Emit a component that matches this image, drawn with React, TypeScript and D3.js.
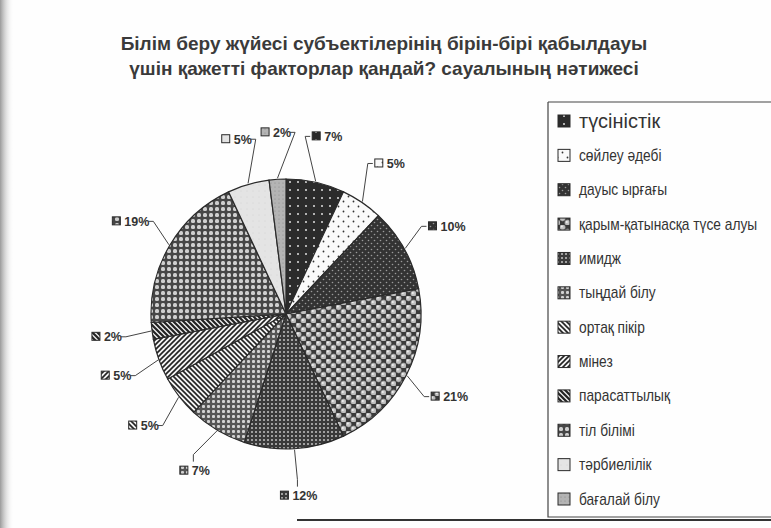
import React from 'react';
import * as d3 from 'd3';

// сауал нәтижесі (%)
const categories = [
  'түсіністік',
  'сөйлеу әдебі',
  'дауыс ырғағы',
  'қарым-қатынасқа түсе алуы',
  'имидж',
  'тыңдай білу',
  'ортақ пікір',
  'мінез',
  'парасаттылық',
  'тіл білімі',
  'тәрбиелілік',
  'бағалай білу',
];
const values = [7, 5, 10, 21, 12, 7, 5, 5, 2, 19, 5, 2];
const titleLines = [
  'Білім беру жүйесі субъектілерінің бірін-бірі қабылдауы',
  'үшін қажетті факторлар қандай? сауалының нәтижесі',
];

const W = 771;
const H = 528;
const cx = 286;
const cy = 314;
const radius = 135;
const labelRadius = 182;
const ink = '#2a2a2a';

// штрихтау үлгілері (Excel сияқты)
const Patterns = () => (
  <defs>
    <pattern id="p0" width="8" height="8" patternUnits="userSpaceOnUse">
      <rect width="8" height="8" fill="#2b2b2b" />
      <circle cx="4" cy="4" r="1" fill="#e0e0e0" />
    </pattern>
    <pattern id="p1" width="10" height="10" patternUnits="userSpaceOnUse">
      <rect width="10" height="10" fill="#fafafa" />
      <circle cx="2.5" cy="2.5" r="0.9" fill="#333" />
      <circle cx="7.5" cy="7.5" r="0.9" fill="#333" />
    </pattern>
    <pattern id="p2" width="6" height="6" patternUnits="userSpaceOnUse">
      <rect width="6" height="6" fill="#333" />
      <circle cx="1.5" cy="1.5" r="0.8" fill="#9a9a9a" />
      <circle cx="4.5" cy="4.5" r="0.8" fill="#9a9a9a" />
    </pattern>
    <pattern id="p3" width="10" height="9" patternUnits="userSpaceOnUse">
      <rect width="10" height="9" fill="#3a3a3a" />
      <circle cx="2.5" cy="2.25" r="2.9" fill="#c2c2c2" stroke="#555" strokeWidth="0.4" />
      <circle cx="7.5" cy="6.75" r="2.9" fill="#c2c2c2" stroke="#555" strokeWidth="0.4" />
      <circle cx="1.8" cy="1.5" r="1" fill="#f0f0f0" />
      <circle cx="6.8" cy="6" r="1" fill="#f0f0f0" />
    </pattern>
    <pattern id="p4" width="4" height="4" patternUnits="userSpaceOnUse">
      <rect width="4" height="4" fill="#3a3a3a" />
      <rect x="1" y="1" width="2" height="2" fill="#a0a0a0" />
    </pattern>
    <pattern id="p5" width="5" height="5" patternUnits="userSpaceOnUse">
      <rect width="5" height="5" fill="#555" />
      <rect x="1" y="1" width="3" height="3" rx="1" fill="#d2d2d2" />
    </pattern>
    <pattern id="p6" width="5" height="5" patternUnits="userSpaceOnUse">
      <rect width="5" height="5" fill="#f4f4f4" />
      <path d="M-1,-1 L6,6 M-1,4 L1,6 M4,-1 L6,1" stroke="#222" strokeWidth="1.6" />
    </pattern>
    <pattern id="p7" width="5" height="5" patternUnits="userSpaceOnUse">
      <rect width="5" height="5" fill="#f4f4f4" />
      <path d="M-1,6 L6,-1 M-1,1 L1,-1 M4,6 L6,4" stroke="#222" strokeWidth="1.6" />
    </pattern>
    <pattern id="p8" width="5" height="5" patternUnits="userSpaceOnUse">
      <rect width="5" height="5" fill="#eee" />
      <path d="M-1,-1 L6,6 M-1,4 L1,6 M4,-1 L6,1" stroke="#222" strokeWidth="2.2" />
    </pattern>
    <pattern id="p9" width="6" height="6" patternUnits="userSpaceOnUse">
      <rect width="6" height="6" fill="#464646" />
      <rect x="1" y="1" width="4" height="4" rx="1.5" fill="#cfcfcf" />
    </pattern>
    <pattern id="p10" width="6" height="6" patternUnits="userSpaceOnUse">
      <rect width="6" height="6" fill="#e4e4e4" />
      <circle cx="3" cy="3" r="0.5" fill="#d0d0d0" />
    </pattern>
    <pattern id="p11" width="4" height="4" patternUnits="userSpaceOnUse">
      <rect width="4" height="4" fill="#b4b4b4" />
      <circle cx="1" cy="1" r="0.6" fill="#888" />
    </pattern>
    <linearGradient id="edge" x1="0" x2="1" y1="0" y2="0">
      <stop offset="0" stopColor="#9a9a9a" />
      <stop offset="1" stopColor="#ffffff" stopOpacity="0" />
    </linearGradient>
  </defs>
);

const App = () => {
  const pie = d3.pie<number>().sort(null).value(d => d);
  const arcs = pie(values);
  const arc = d3.arc<d3.PieArcDatum<number>>().innerRadius(0).outerRadius(radius);

  // аңыз жолдарының орналасуы
  const legendY = d3.scalePoint<string>().domain(categories).range([121, 499]);

  const labels = arcs.map((a, i) => {
    const mid = (a.startAngle + a.endAngle) / 2;
    const sx = Math.sin(mid);
    const cyy = -Math.cos(mid);
    const text = `${values[i]}%`;
    const w = 13 + text.length * 7;
    const lx = cx + sx * labelRadius;
    const ly = cy + cyy * labelRadius;
    const p0: [number, number] = [cx + sx * (radius + 1), cy + cyy * (radius + 1)];
    let pts: [number, number][];
    if (cyy > 0.85) {
      pts = [p0, [lx, ly - 16], [lx, ly - 9]];
    } else if (sx >= 0) {
      const left = lx - w / 2;
      pts = [p0, [left - 7, ly], [left - 2, ly]];
    } else {
      const right = lx + w / 2;
      pts = [p0, [right + 7, ly], [right + 2, ly]];
    }
    return { i, text, w, lx, ly, pts };
  });

  const line = d3.line();

  return (
    <svg
      width={W}
      height={H}
      style={{ position: 'absolute', left: 0, top: 0, background: '#fefefe' }}
      fontFamily="'Liberation Sans', Arial, sans-serif"
    >
      <Patterns />
      <rect x={0} y={0} width={14} height={H} fill="url(#edge)" />

      {titleLines.map((t, k) => (
        <text
          key={k}
          x={384}
          y={50 + k * 25}
          textAnchor="middle"
          fontSize={19}
          fontWeight="bold"
          fill="#3a3a3a"
        >
          {t}
        </text>
      ))}

      <g transform={`translate(${cx},${cy})`}>
        {arcs.map((a, i) => (
          <path key={i} d={arc(a) || ''} fill={`url(#p${i})`} stroke={ink} strokeWidth={1.2} />
        ))}
      </g>

      {labels.map(l => (
        <g key={l.i}>
          <path d={line(l.pts) || ''} fill="none" stroke="#444" strokeWidth={1} />
          <rect
            x={l.lx - l.w / 2}
            y={l.ly - 4.5}
            width={8}
            height={8}
            fill={`url(#p${l.i})`}
            stroke={ink}
            strokeWidth={1}
          />
          <text
            x={l.lx - l.w / 2 + 12}
            y={l.ly + 4.5}
            fontSize={12.5}
            fontWeight="bold"
            fill="#333"
          >
            {l.text}
          </text>
        </g>
      ))}

      <path d={`M548,102 H${W} M548,102 V517 H${W}`} fill="none" stroke="#444" strokeWidth={1.2} />
      {categories.map((c, i) => {
        const y = legendY(c) || 0;
        const big = i === 0;
        return (
          <g key={c}>
            <rect x={558} y={y - 6} width={12} height={12} fill={`url(#p${i})`} stroke={ink} strokeWidth={1} />
            <text
              transform={`translate(579,${y + (big ? 7 : 5.5)}) scale(${big ? 0.95 : 0.86},1)`}
              fontSize={big ? 21 : 16}
              fill="#333"
            >
              {c}
            </text>
          </g>
        );
      })}

      <line x1={297} x2={W} y1={520} y2={520} stroke="#333" strokeWidth={2} />
    </svg>
  );
};

export default App;
